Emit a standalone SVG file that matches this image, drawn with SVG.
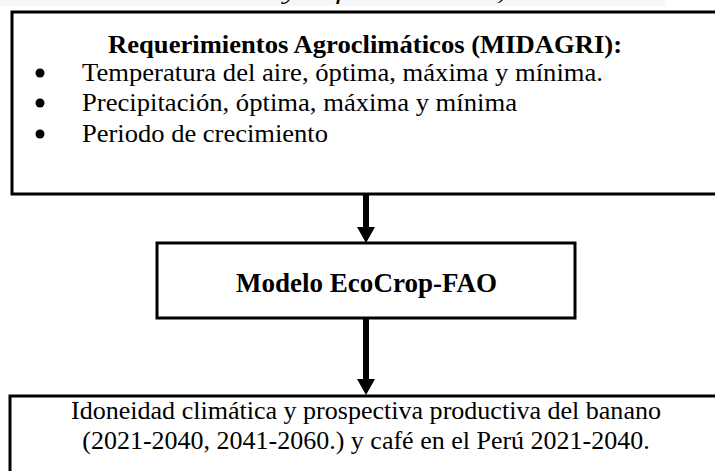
<svg xmlns="http://www.w3.org/2000/svg" width="715" height="471" viewBox="0 0 715 471">
<style>
.box{fill:#fff;stroke:#000;stroke-width:3}
.t{font-family:"Liberation Serif","Times New Roman",serif;fill:#000}
.b{font-weight:bold}
.conn line{stroke:#000;stroke-width:6}
.conn polygon{fill:#000}
</style>
<rect width="715" height="471" fill="#fff"/>
<g id="caption">
<rect x="0" y="0" width="665" height="6" fill="#f6f6f6"/>
<text class="t" x="8" y="-1" font-size="24" font-style="italic" textLength="650" lengthAdjust="spacingAndGlyphs">climática del banano y café en el Perú, 2021-2060.</text>
</g>
<g id="node-requerimientos">
<rect class="box" x="12" y="12" width="720" height="182"/>
<text class="t b" x="108" y="53" font-size="26" textLength="514" lengthAdjust="spacingAndGlyphs">Requerimientos Agroclimáticos (MIDAGRI):</text>
<circle cx="40" cy="73" r="4.5"/>
<circle cx="40" cy="103" r="4.5"/>
<circle cx="40" cy="134" r="4.5"/>
<text class="t" x="82" y="81" font-size="26" textLength="521" lengthAdjust="spacingAndGlyphs">Temperatura del aire, óptima, máxima y mínima.</text>
<text class="t" x="82" y="111" font-size="26" textLength="435" lengthAdjust="spacingAndGlyphs">Precipitación, óptima, máxima y mínima</text>
<text class="t" x="82" y="142" font-size="26" textLength="246" lengthAdjust="spacingAndGlyphs">Periodo de crecimiento</text>
</g>
<g id="node-modelo">
<rect class="box" x="157" y="243" width="418" height="75"/>
<text class="t b" x="236" y="292" font-size="27" textLength="261" lengthAdjust="spacingAndGlyphs">Modelo EcoCrop-FAO</text>
</g>
<g id="node-idoneidad">
<rect class="box" x="10" y="396" width="730" height="100"/>
<text class="t" x="366" y="419" font-size="26" text-anchor="middle" textLength="590" lengthAdjust="spacingAndGlyphs">Idoneidad climática y prospectiva productiva del banano</text>
<text class="t" x="366" y="449" font-size="26" text-anchor="middle">(2021-2040, 2041-2060.) y café en el Perú 2021-2040.</text>
</g>
<g class="conn" id="connectors">
<line x1="366" y1="195" x2="366" y2="229"/>
<polygon points="357,227 375,227 366,243"/>
<line x1="366" y1="319" x2="366" y2="381"/>
<polygon points="357,379 375,379 366,395"/>
</g>
</svg>
